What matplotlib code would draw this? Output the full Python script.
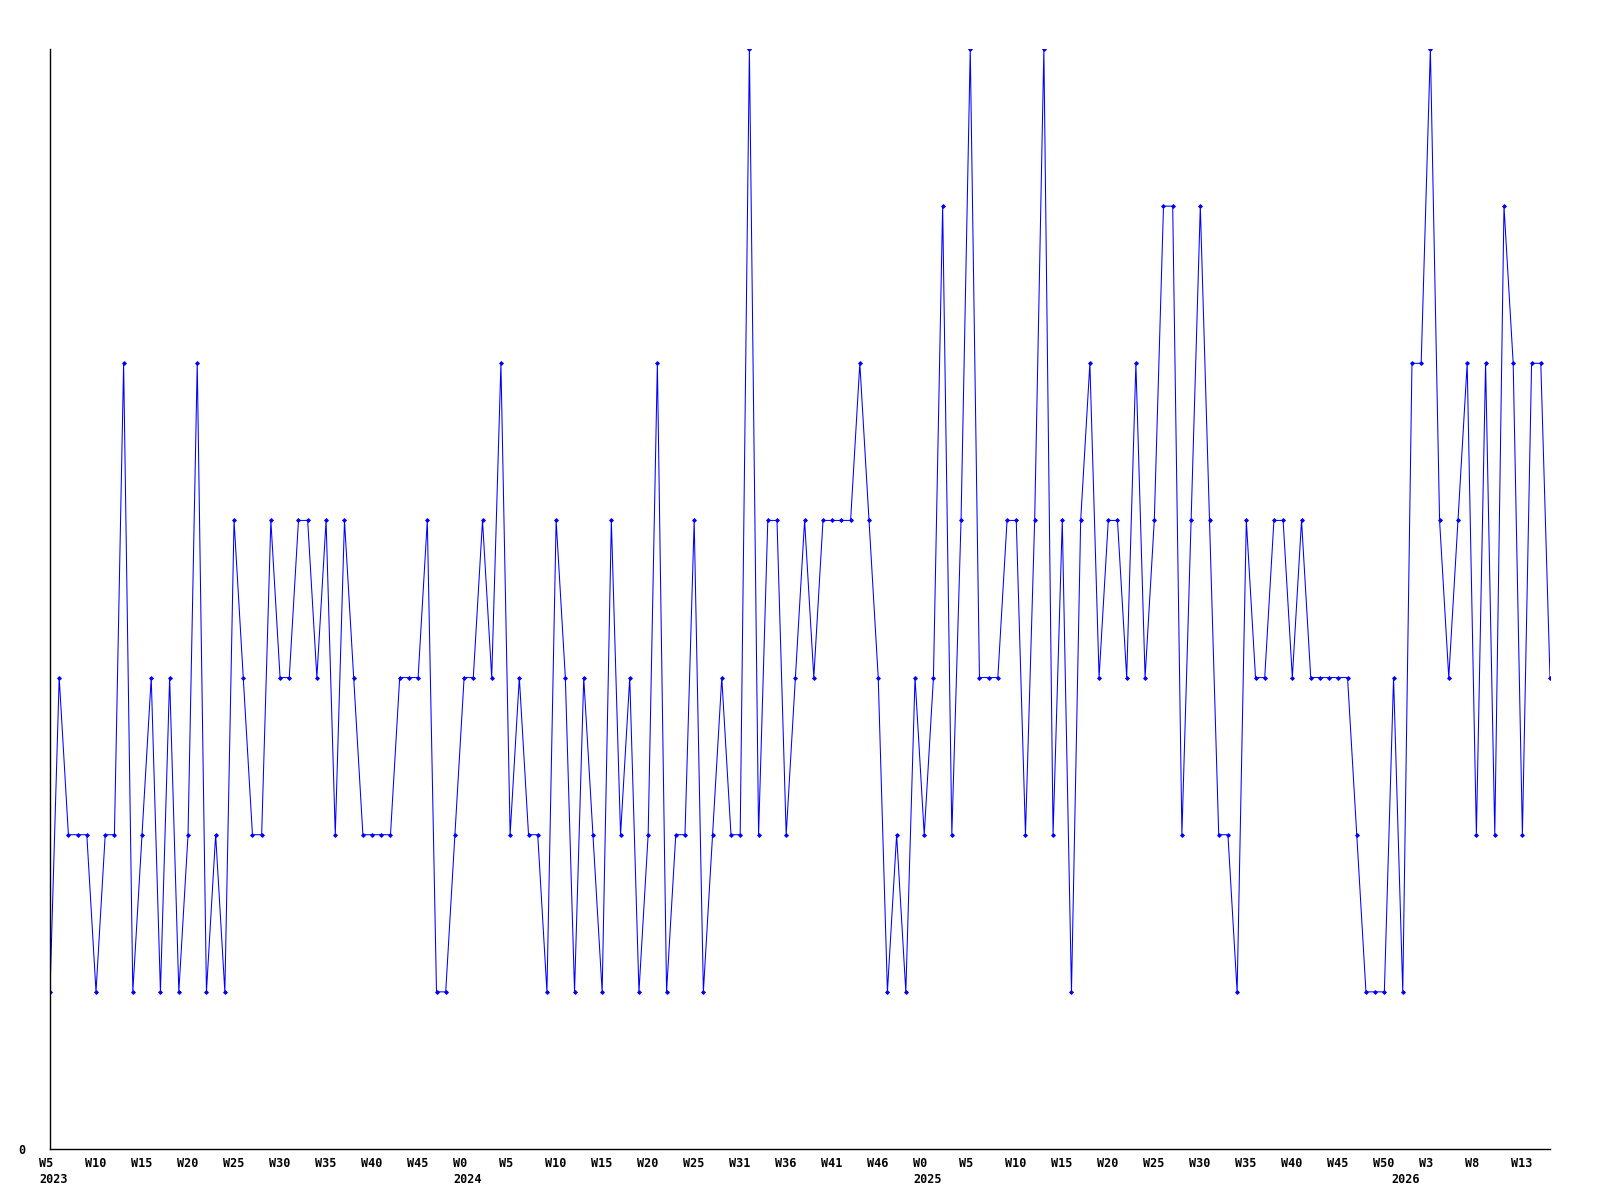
import matplotlib
matplotlib.use("Agg")
import matplotlib.pyplot as plt
from matplotlib.transforms import ScaledTranslation

# weekly values, one per point (index 0 = W5 2023)
values = [
    1, 3, 2, 2, 2, 1, 2, 2, 5, 1, 2, 3, 1, 3, 1, 2, 5, 1, 2, 1,
    4, 3, 2, 2, 4, 3, 3, 4, 4, 3, 4, 2, 4, 3, 2, 2, 2, 2, 3, 3,
    3, 4, 1, 1, 2, 3, 3, 4, 3, 5, 2, 3, 2, 2, 1, 4, 3, 1, 3, 2,
    1, 4, 2, 3, 1, 2, 5, 1, 2, 2, 4, 1, 2, 3, 2, 2, 7, 2, 4, 4,
    2, 3, 4, 3, 4, 4, 4, 4, 5, 4, 3, 1, 2, 1, 3, 2, 3, 6, 2, 4,
    7, 3, 3, 3, 4, 4, 2, 4, 7, 2, 4, 1, 4, 5, 3, 4, 4, 3, 5, 3,
    4, 6, 6, 2, 4, 6, 4, 2, 2, 1, 4, 3, 3, 4, 4, 3, 4, 3, 3, 3,
    3, 3, 2, 1, 1, 1, 3, 1, 5, 5, 7, 4, 3, 4, 5, 2, 5, 2, 6, 5,
    2, 5, 5, 3,
]

# tick every 5 points
tick_labels = [
    "W5\n2023", "W10", "W15", "W20", "W25", "W30", "W35", "W40", "W45",
    "W0\n2024", "W5", "W10", "W15", "W20", "W25", "W31", "W36", "W41", "W46",
    "W0\n2025", "W5", "W10", "W15", "W20", "W25", "W30", "W35", "W40", "W45",
    "W50", "W3", "W8", "W13",
]
year_2026_pos = 147

x = list(range(len(values)))
ticks = [i * 5 for i in range(len(tick_labels))]

fig = plt.figure(figsize=(16, 12), dpi=100)
ax = fig.add_axes([50 / 1600, 51 / 1200, 1500 / 1600, 1100 / 1200])

ax.plot(x, values, color="#0000ff", linewidth=0.75,
        marker="D", markersize=2.0, markerfacecolor="#0000ff",
        markeredgecolor="#0000ff", markeredgewidth=0.6)

ax.set_xlim(0, len(values) - 1)
ax.set_ylim(0, 7)

for s in ["top", "right"]:
    ax.spines[s].set_visible(False)
for s in ["left", "bottom"]:
    ax.spines[s].set_linewidth(1.0)
    ax.spines[s].set_color("black")

font = dict(family="DejaVu Sans Mono", weight="bold", size=8.5)

ax.set_yticks([0])
ax.set_yticklabels(["0"], fontdict=font)
ax.tick_params(axis="y", length=0, pad=18)

ax.set_xticks(ticks)
ax.set_xticklabels(tick_labels, fontdict=font, ha="left",
                   linespacing=1.3, va="top")
ax.tick_params(axis="x", length=0, pad=6)
shift = ScaledTranslation(-11 / 100, 0, fig.dpi_scale_trans)
for lab in ax.get_xticklabels():
    lab.set_transform(lab.get_transform() + shift)

# 2026 year label sits under the first week of 2026
ax.text(year_2026_pos, 0, "\n2026", fontdict=font, ha="left", va="top",
        linespacing=1.3,
        transform=ax.get_xaxis_transform()
        + ScaledTranslation(-11 / 100, -6 / 72, fig.dpi_scale_trans))

fig.savefig("out.png", dpi=100)
